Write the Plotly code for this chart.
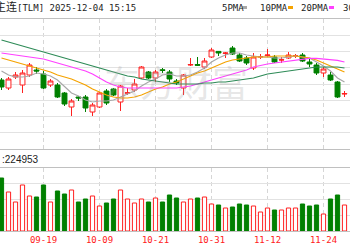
import plotly.graph_objects as go

# ---------------- data ----------------
dates = ["09-11","09-12","09-15","09-16","09-17","09-18","09-19","09-22","09-23","09-24",
         "09-25","09-26","09-29","09-30","10-09","10-10","10-13","10-14","10-15","10-16",
         "10-17","10-20","10-21","10-22","10-23","10-24","10-27","10-28","10-29","10-30",
         "10-31","11-03","11-04","11-05","11-06","11-07","11-10","11-11","11-12","11-13",
         "11-14","11-17","11-18","11-19","11-20","11-21","11-24","11-25","11-26","11-27"]

open_ = [116.95,116.55,117.10,116.70,117.20,117.45,117.25,116.70,116.70,116.30,
         115.60,116.10,116.10,115.35,115.60,116.40,116.50,115.85,116.29,116.45,
         117.05,117.35,117.05,117.46,117.35,116.90,116.55,117.70,117.72,117.60,
         118.10,118.38,118.28,118.55,118.20,118.05,117.55,118.10,118.17,118.10,
         117.95,118.05,118.15,118.20,117.85,117.70,117.30,117.20,116.85,116.25]
high = [117.05,117.10,117.35,117.45,117.80,117.60,117.40,117.00,116.80,116.35,
        116.00,116.15,116.20,115.80,116.35,116.50,116.55,116.70,116.55,117.00,
        117.65,117.40,117.45,117.55,117.45,117.00,117.25,118.05,118.10,118.05,
        118.55,118.40,118.35,118.65,118.30,118.15,118.30,118.25,118.50,118.20,
        118.10,118.35,118.25,118.30,118.05,117.80,117.60,117.35,116.90,116.40]
low = [116.45,116.45,117.00,116.30,117.10,117.25,116.50,116.60,116.05,115.65,
       115.15,115.90,115.35,115.15,115.55,115.70,116.15,115.40,116.20,116.35,
       117.00,117.00,116.85,117.30,116.85,116.70,116.20,117.65,117.65,117.50,
       118.05,118.15,118.05,118.20,117.85,117.70,117.45,118.00,118.10,117.80,
       117.80,118.00,118.05,117.85,117.60,117.20,117.10,116.90,116.05,116.10]
close = [116.60,117.00,117.20,117.30,117.70,117.40,116.55,116.90,116.10,115.75,
         115.90,116.05,115.55,115.70,116.30,115.80,116.20,116.65,116.31,116.75,
         117.60,117.05,117.35,117.43,117.00,116.80,117.20,117.72,117.69,117.90,
         118.45,118.30,118.30,118.25,117.90,117.80,118.10,118.12,118.20,117.85,
         117.96,118.20,118.16,117.90,117.75,117.30,117.50,116.95,116.10,116.27]

ma5 = [117.40,117.20,117.10,117.10,117.15,117.30,117.25,117.15,116.95,116.60,
       116.30,116.15,115.95,115.85,115.90,115.90,115.95,116.10,116.25,116.40,
       116.65,116.85,117.00,117.20,117.25,117.15,117.15,117.20,117.35,117.55,
       117.85,118.05,118.20,118.30,118.30,118.20,118.15,118.10,118.10,118.05,
       118.05,118.10,118.15,118.10,118.05,117.85,117.65,117.40,117.05,116.85]
ma10 = [118.05,117.95,117.85,117.75,117.65,117.55,117.45,117.35,117.20,117.10,
        117.00,116.85,116.70,116.50,116.35,116.20,116.10,116.05,116.05,116.10,
        116.20,116.35,116.50,116.60,116.75,116.85,117.00,117.15,117.30,117.40,
        117.55,117.70,117.85,117.95,118.00,118.05,118.10,118.10,118.10,118.15,
        118.15,118.15,118.15,118.10,118.05,117.95,117.80,117.65,117.50,117.35]
ma20 = [118.30,118.25,118.20,118.15,118.10,118.05,118.00,117.90,117.80,117.70,
        117.60,117.50,117.40,117.25,117.05,116.85,116.70,116.60,116.55,116.55,
        116.55,116.55,116.55,116.55,116.55,116.55,116.60,116.65,116.75,116.85,
        116.95,117.05,117.15,117.25,117.35,117.45,117.60,117.68,117.75,117.80,
        117.85,117.90,117.95,118.00,118.03,118.03,118.00,117.98,117.93,117.85]
ma30 = [118.95,118.85,118.75,118.65,118.55,118.45,118.35,118.25,118.15,118.05,
        117.95,117.85,117.75,117.65,117.55,117.45,117.35,117.25,117.15,117.10,
        117.00,116.95,116.90,116.85,116.80,116.75,116.75,116.75,116.75,116.80,
        116.80,116.85,116.85,116.90,116.95,117.00,117.05,117.15,117.25,117.30,
        117.35,117.40,117.45,117.50,117.55,117.60,117.60,117.60,117.60,117.55]

volume = [336500,247600,184100,292100,222200,215900,292100,184100,254000,234900,
          260300,184100,203200,222200,158700,177800,203200,260300,203200,177800,
          203200,184100,209500,184100,228600,209500,184100,203200,209500,215900,
          171400,165100,146000,152400,171400,165100,158700,120600,146000,133300,
          133300,146000,146000,171400,158700,165100,107900,203200,228600,165100]

tick_dates = ["09-19", "10-09", "10-21", "10-31", "11-12", "11-24"]
ma_names = ["5PMA", "10PMA", "20PMA", "30PMA"]
last_volume_text = ":224953"
title_cjk = "主连"
title_rest = "[TLM] 2025-12-04 15:15"
watermark_text = "东方财富"

# ---------------- styling ----------------
W, H = 350, 250
RED = "#ff2020"
GREEN = "#008000"
MA_COLORS = ["#a8a8a8", "#f5a300", "#ff40ff", "#2e8b57"]
GRID = "#e2e2e2"
BORDER = "#c0c0c0"
MONO = "DejaVu Sans Mono, Noto Sans CJK SC"


def px(x):
    return x / W


def py(y):
    return 1 - y / H


fig = go.Figure()

for name, vals, col in zip(ma_names, [ma5, ma10, ma20, ma30], MA_COLORS):
    fig.add_trace(go.Scatter(x=dates, y=vals, mode="lines", name=name,
                             line=dict(color=col, width=1.2), hoverinfo="skip",
                             xaxis="x", yaxis="y"))

fig.add_trace(go.Candlestick(
    x=dates, open=open_, high=high, low=low, close=close,
    increasing=dict(line=dict(color=RED, width=1), fillcolor="white"),
    decreasing=dict(line=dict(color=GREEN, width=1), fillcolor=GREEN),
    whiskerwidth=0, xaxis="x", yaxis="y", name="K"))

up = [c >= o for o, c in zip(open_, close)]
fig.add_trace(go.Bar(
    x=dates, y=volume, width=0.6,
    marker=dict(color=["white" if u else GREEN for u in up],
                line=dict(color=[RED if u else GREEN for u in up], width=1)),
    xaxis="x2", yaxis="y2", name="VOL"))

xr = [-0.214, 49.786]
common_x = dict(type="category", range=xr, tickvals=tick_dates, ticktext=tick_dates,
                showgrid=True, gridcolor="#d6d6d6", griddash="4px,3px", gridwidth=1,
                showline=True, mirror=True, linecolor=BORDER, linewidth=1,
                zeroline=False, ticks="", fixedrange=True)

fig.update_layout(
    width=W, height=H, margin=dict(l=0, r=0, t=0, b=0),
    paper_bgcolor="white", plot_bgcolor="white", showlegend=False,
    boxgap=0.3, boxgroupgap=0,
    xaxis=dict(**common_x, anchor="y", showticklabels=False,
               rangeslider=dict(visible=False)),
    xaxis2=dict(**common_x, anchor="y2", matches="x", showticklabels=True,
                tickfont=dict(family=MONO, size=9, color=RED)),
    yaxis=dict(domain=[py(149), py(19)], range=[113.5, 120.0], tick0=113.5,
               dtick=0.8125, showgrid=True, gridcolor=GRID, showticklabels=False,
               zeroline=False, ticks=""),
    yaxis2=dict(domain=[py(231), py(168)], range=[0, 400000], tick0=0,
                dtick=100000, showgrid=True, gridcolor=GRID,
                showticklabels=False, zeroline=False, ticks=""),
)

ann = []
ann.append(dict(text=watermark_text, x=px(176), y=py(53), xref="paper", yref="paper",
                showarrow=False, font=dict(family="Noto Sans CJK SC", size=36,
                                           color="rgba(160,160,160,0.26)")))
title_html = "<span style='font-size:11px'>" + title_cjk + "</span>" + title_rest
ann.append(dict(text=title_html, x=px(138), y=py(7.5), xref="paper", yref="paper",
                xanchor="right", yanchor="middle", showarrow=False,
                font=dict(family=MONO, size=9, color="#222")))
legend_x = [220, 257.5, 299, 341]
for name, lx in zip(ma_names, legend_x):
    ann.append(dict(text=name, x=px(lx), y=py(7.5), xref="paper", yref="paper",
                    xanchor="left", yanchor="middle", showarrow=False,
                    font=dict(family=MONO, size=9, color="#222")))
ann.append(dict(text=last_volume_text, x=0, y=py(159.5), xref="paper", yref="paper",
                xanchor="left", yanchor="middle", showarrow=False,
                font=dict(family="Liberation Sans", size=10, color="#222")))
fig.update_layout(annotations=ann)

swatch_x = [242, 288, 329, 370]
shapes = []
for col, sx in zip(MA_COLORS, swatch_x):
    shapes.append(dict(type="rect", xref="paper", yref="paper",
                       x0=px(sx), x1=px(sx + 5), y0=py(9), y1=py(6),
                       fillcolor=col, line=dict(width=0)))
fig.update_layout(shapes=shapes)

fig.write_html("out.html")
